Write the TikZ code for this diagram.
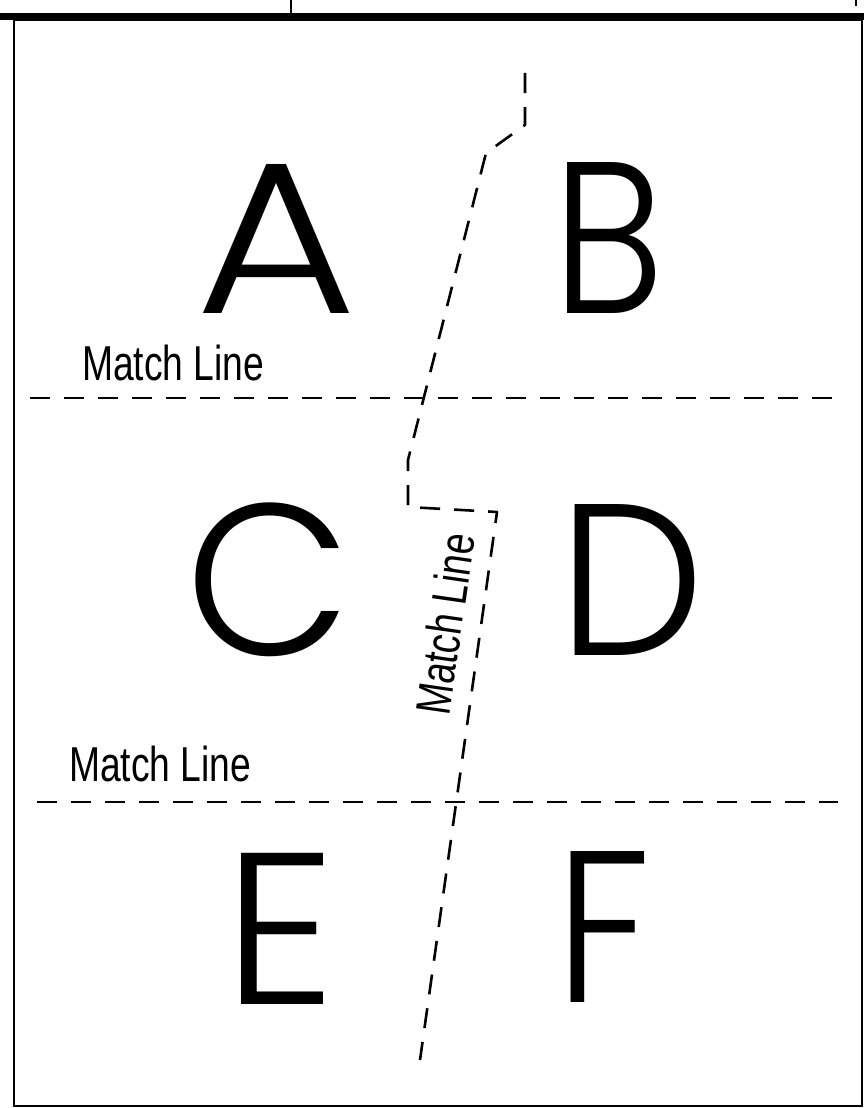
\documentclass[tikz,border=0pt]{standalone}
\usepackage{fontspec}
\newfontfamily\letterfont{Poppins Light}
\newfontfamily\condfont{Liberation Sans}
\begin{document}
\begin{tikzpicture}[x=1pt,y=-1pt,
  letter/.style={inner sep=0pt, anchor=base, font=\letterfont\fontsize{216}{216}\selectfont},
  mlabel/.style={inner sep=0pt, font=\condfont\fontsize{49}{49}\selectfont},
  matchline/.style={line width=2.6pt, dash pattern=on 20pt off 14pt},
  frameline/.style={line width=1.8pt}]
\useasboundingbox (0,0) rectangle (864,1108);
% title block remnants
\fill[black] (0,13) rectangle (864,20);
\draw[line width=1.5pt] (291,0) -- (291,13);
\draw[line width=1.5pt] (856,0) -- (856,6);
% frame
\draw[frameline] (14,20) rectangle (862,1106);
% horizontal match lines
\coordinate (h1a) at (30,398);
\coordinate (h1b) at (843,398);
\coordinate (h2a) at (37,802);
\coordinate (h2b) at (838,802);
\draw[matchline] (h1a) -- (h1b);
\draw[matchline] (h2a) -- (h2b);
% vertical match line
\coordinate (v0) at (525,73);
\coordinate (v1) at (525,125);
\coordinate (v2) at (486,153);
\coordinate (v3) at (408,460);
\coordinate (v4) at (408,507);
\coordinate (v5) at (497,512);
\coordinate (v6) at (420,1060);
\draw[matchline, line join=round] (v0) -- (v1) -- (v2) -- (v3) -- (v4) -- (v5) -- (v6);
% letters
\node[letter] (A) at (276,313) {\scalebox{1.15}[1]{A}};
\node[letter] (B) at (609,313) {\scalebox{0.87}[1]{B}};
\node[letter] (C) at (268.5,655) {C};
\node[letter] (D) at (631.5,655) {\scalebox{0.96}[1]{D}};
\node[letter] (E) at (279.5,1004) {\scalebox{1.04}[1]{E}};
\node[letter] (F) at (603,1002) {\scalebox{0.9}[1]{F}};
% labels
\node[mlabel, anchor=base west] (m1) at (82,380) {\scalebox{0.76}[1]{Match Line}};
\node[mlabel, anchor=base west] (m2) at (69,781) {\scalebox{0.76}[1]{Match Line}};
\node[mlabel, rotate=81.8] (m3) at (445,624) {\scalebox{0.76}[1]{Match Line}};
\end{tikzpicture}
\end{document}
